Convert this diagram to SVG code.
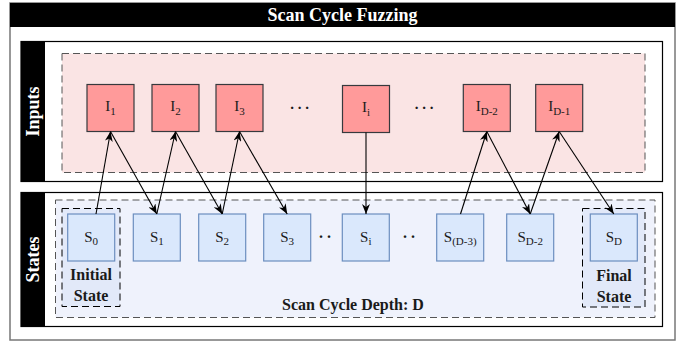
<svg xmlns="http://www.w3.org/2000/svg" width="684" height="345" viewBox="0 0 684 345">
<style>
.lbl{font-family:"Liberation Serif","Times New Roman",serif;fill:#1a1a1a;text-anchor:middle}
.bold{font-family:"Liberation Serif","Times New Roman",serif;font-weight:bold;text-anchor:middle}
.in{fill:#ff9a9a;stroke:#36393d;stroke-width:1.2}
.st{fill:#dae8fc;stroke:#6c8ebf;stroke-width:1.2}
.sub{font-size:11px}
.conn line{stroke:#000;stroke-width:1.1;marker-end:url(#arr)}
</style>
<defs>
<marker id="arr" viewBox="0 0 10 8" refX="10" refY="4" markerWidth="10" markerHeight="8" orient="auto" markerUnits="userSpaceOnUse">
<path d="M0,0 L10,4 L0,8 L3,4 Z" fill="#000"/>
</marker>
</defs>
<rect width="684" height="345" fill="#fff"/>
<g id="frame">
<rect x="10" y="3" width="665" height="337" fill="#fff" stroke="#777" stroke-width="1.5"/>
<rect x="10" y="3" width="665" height="24" fill="#000"/>
<text class="bold" x="342.5" y="21" font-size="18" fill="#fff">Scan Cycle Fuzzing</text>
</g>
<g id="inputs-lane">
<rect x="21" y="41.5" width="641.5" height="140" fill="#fff" stroke="#000" stroke-width="1.2"/>
<rect x="21" y="41.5" width="24" height="140" fill="#000"/>
<text class="bold" font-size="18" fill="#fff" transform="translate(33,111.5) rotate(-90)" dy="6">Inputs</text>
<rect x="62" y="53.5" width="583" height="119" fill="#fae4e4" stroke="#555" stroke-dasharray="7 4"/>
</g>
<g id="states-lane">
<rect x="21" y="192.5" width="641.5" height="134" fill="#fff" stroke="#000" stroke-width="1.2"/>
<rect x="21" y="192.5" width="24" height="134" fill="#000"/>
<text class="bold" font-size="18" fill="#fff" transform="translate(33,259.5) rotate(-90)" dy="6">States</text>
<rect x="55.5" y="200" width="599.5" height="117.5" fill="#eff2fc" stroke="#555" stroke-dasharray="7 4"/>
<text class="bold" x="353" y="309.5" font-size="16" fill="#1a1a1a">Scan Cycle Depth: D</text>
</g>
<g id="initial-state">
<rect x="62" y="208.5" width="58" height="98" fill="#e2e9f9" stroke="#000" stroke-dasharray="7 4"/>
<text class="bold" x="91" y="279.5" font-size="16" fill="#1a1a1a">Initial</text>
<text class="bold" x="91" y="300.5" font-size="16" fill="#1a1a1a">State</text>
</g>
<g id="final-state">
<rect x="582.5" y="208.5" width="62.5" height="98.5" fill="#e2e9f9" stroke="#000" stroke-dasharray="7 4"/>
<text class="bold" x="614" y="281" font-size="16" fill="#1a1a1a">Final</text>
<text class="bold" x="614" y="302" font-size="16" fill="#1a1a1a">State</text>
</g>
<g id="I1"><rect class="in" x="87" y="84.5" width="47" height="47"/><text class="lbl" x="110.5" y="111" font-size="15">I<tspan class="sub" dy="4">1</tspan></text></g>
<g id="I2"><rect class="in" x="152" y="84.5" width="47" height="47"/><text class="lbl" x="175.5" y="111" font-size="15">I<tspan class="sub" dy="4">2</tspan></text></g>
<g id="I3"><rect class="in" x="216" y="84.5" width="47" height="47"/><text class="lbl" x="239.5" y="111" font-size="15">I<tspan class="sub" dy="4">3</tspan></text></g>
<g id="dots-i1"><text class="lbl" x="299.5" y="109" font-size="15" font-weight="bold">. . .</text></g>
<g id="Ii"><rect class="in" x="342.5" y="85.5" width="47" height="47"/><text class="lbl" x="366" y="112" font-size="15">I<tspan class="sub" dy="4">i</tspan></text></g>
<g id="dots-i2"><text class="lbl" x="424" y="109" font-size="15" font-weight="bold">. . .</text></g>
<g id="ID-2"><rect class="in" x="463.3" y="84.5" width="47" height="47"/><text class="lbl" x="486.8" y="111" font-size="15">I<tspan class="sub" dy="4">D-2</tspan></text></g>
<g id="ID-1"><rect class="in" x="535.7" y="84.5" width="47" height="47"/><text class="lbl" x="559.2" y="111" font-size="15">I<tspan class="sub" dy="4">D-1</tspan></text></g>
<g id="S0"><rect class="st" x="67.7" y="214" width="47" height="47"/><text class="lbl" x="91.2" y="241.5" font-size="15">S<tspan class="sub" dy="3">0</tspan></text></g>
<g id="S1"><rect class="st" x="133.3" y="214" width="47" height="47"/><text class="lbl" x="156.8" y="241.5" font-size="15">S<tspan class="sub" dy="3">1</tspan></text></g>
<g id="S2"><rect class="st" x="198.7" y="214" width="47" height="47"/><text class="lbl" x="222.2" y="241.5" font-size="15">S<tspan class="sub" dy="3">2</tspan></text></g>
<g id="S3"><rect class="st" x="263.7" y="214" width="47" height="47"/><text class="lbl" x="287.2" y="241.5" font-size="15">S<tspan class="sub" dy="3">3</tspan></text></g>
<g id="dots-s1"><text class="lbl" x="325" y="238" font-size="16" font-weight="bold">. .</text></g>
<g id="Si"><rect class="st" x="342.3" y="214" width="47" height="47"/><text class="lbl" x="365.8" y="241.5" font-size="15">S<tspan class="sub" dy="3">i</tspan></text></g>
<g id="dots-s2"><text class="lbl" x="409" y="238" font-size="16" font-weight="bold">. .</text></g>
<g id="SD-3"><rect class="st" x="436.7" y="214" width="47" height="47"/><text class="lbl" x="460.2" y="241.5" font-size="15">S<tspan class="sub" dy="3">(D-3)</tspan></text></g>
<g id="SD-2"><rect class="st" x="506.7" y="214" width="47" height="47"/><text class="lbl" x="530.2" y="241.5" font-size="15">S<tspan class="sub" dy="3">D-2</tspan></text></g>
<g id="SD"><rect class="st" x="590.3" y="214" width="47" height="47"/><text class="lbl" x="613.8" y="241.5" font-size="15">S<tspan class="sub" dy="3">D</tspan></text></g>
<g id="connectors" class="conn">
<line x1="96" y1="214" x2="110.5" y2="131.5"/>
<line x1="110.5" y1="131.5" x2="156.8" y2="214"/>
<line x1="156.8" y1="214" x2="175.5" y2="131.5"/>
<line x1="175.5" y1="131.5" x2="222.2" y2="214"/>
<line x1="222.2" y1="214" x2="239.5" y2="131.5"/>
<line x1="239.5" y1="131.5" x2="287.2" y2="214"/>
<line x1="366" y1="132.5" x2="366" y2="214"/>
<line x1="460.5" y1="214" x2="486.8" y2="131.5"/>
<line x1="486.8" y1="131.5" x2="530.2" y2="214"/>
<line x1="530.2" y1="214" x2="559.2" y2="131.5"/>
<line x1="559.2" y1="131.5" x2="613.8" y2="214"/>
</g>
</svg>
